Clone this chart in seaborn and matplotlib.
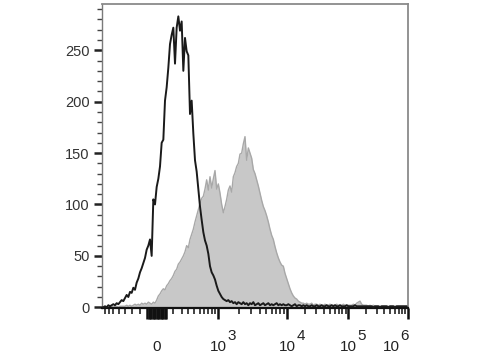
import numpy as np
import pandas as pd
import matplotlib
matplotlib.use("Agg")
import matplotlib.pyplot as plt
import seaborn as sns
from matplotlib.transforms import blended_transform_factory

# ---- data (histogram counts per display channel) ----
channels = list(range(5, 925, 5))

isotype_counts = [
    0, 0, 1, 0, 2, 1, 2, 3, 2, 4,
    3, 5, 7, 6, 9, 12, 10, 15, 14, 19,
    17, 24, 28, 34, 38, 43, 48, 56, 60, 66,
    50, 105, 100, 117, 125, 137, 160, 163, 201, 214,
    233, 256, 265, 272, 237, 272, 283, 269, 278, 230,
    262, 249, 245, 188, 201, 169, 143, 132, 115, 98,
    85, 73, 65, 60, 52, 40, 34, 31, 27, 21,
    16, 13, 10, 8, 7, 6, 7, 5, 6, 4,
    5, 3, 5, 4, 3, 5, 3, 4, 2, 4,
    3, 5, 2, 3, 4, 2, 3, 4, 2, 3,
    4, 2, 3, 2, 3, 4, 2, 3, 2, 3,
    2, 2, 3, 2, 1, 2, 3, 1, 2, 2,
    1, 2, 1, 2, 1, 1, 2, 1, 1, 2,
    1, 1, 2, 1, 1, 2, 1, 1, 2, 1,
    2, 1, 1, 2, 1, 1, 1, 2, 1, 1,
    1, 1, 2, 1, 1, 1, 1, 1, 1, 1,
    1, 1, 1, 0, 1, 1, 1, 0, 1, 1,
    1, 1, 0, 1, 1, 1, 0, 1, 1, 1,
    1, 1, 1, 1,
]

stained_counts = [
    0, 0, 0, 0, 0, 0, 1, 0, 1, 1,
    0, 1, 1, 1, 1, 2, 1, 2, 1, 2,
    3, 2, 3, 2, 4, 3, 4, 3, 5, 4,
    3, 5, 4, 7, 11, 13, 16, 18, 17, 21,
    23, 26, 28, 31, 35, 37, 42, 44, 47, 50,
    54, 60, 58, 66, 71, 76, 83, 89, 95, 101,
    106, 108, 115, 124, 114, 127, 116, 125, 133, 115,
    120, 111, 100, 92, 98, 105, 114, 118, 112, 127,
    131, 137, 140, 149, 150, 159, 166, 143, 155, 150,
    145, 134, 130, 124, 118, 111, 104, 98, 94, 89,
    83, 76, 70, 66, 59, 53, 48, 44, 41, 40,
    33, 28, 23, 18, 14, 11, 9, 8, 6, 5,
    4, 4, 3, 4, 3, 3, 4, 2, 3, 3,
    2, 3, 2, 2, 3, 2, 2, 3, 2, 2,
    2, 3, 2, 2, 2, 3, 2, 2, 2, 2,
    2, 3, 2, 4, 5, 6, 3, 2, 2, 2,
    1, 2, 1, 2, 1, 1, 1, 1, 1, 1,
    1, 1, 1, 1, 1, 1, 1, 1, 1, 1,
    1, 1, 1, 1,
]

y_ticks = [0, 50, 100, 150, 200, 250]
x_tick_bases = ["0", "10", "10", "10", "10"]
x_tick_exponents = ["", "3", "4", "5", "6"]

df = pd.DataFrame({"channel": channels,
                   "isotype": isotype_counts,
                   "stained": stained_counts})

# ---- styling ----
sns.set_theme(style="ticks")
plt.rcParams["font.family"] = ["Liberation Sans", "DejaVu Sans"]

fig = plt.figure(figsize=(4.8, 3.6), dpi=100)
ax = fig.add_axes([102 / 480, 1 - 307.8 / 360, 306 / 480, 303.8 / 360])

# stained sample: grey filled histogram
ax.fill_between(df["channel"], df["stained"], 0, color="#c8c8c8", lw=0, zorder=1)
sns.lineplot(data=df, x="channel", y="stained", ax=ax, color="#a8a8a8",
             lw=1.0, zorder=2)
# isotype control: black outline
sns.lineplot(data=df, x="channel", y="isotype", ax=ax, color="#1a1a1a",
             lw=1.4, zorder=3)

ax.set_xlim(6, 924)
ax.set_ylim(-0.5, 295)
ax.set_xlabel("")
ax.set_ylabel("")

# y axis ticks
ax.set_yticks(y_ticks)
ax.set_yticklabels([str(v) for v in y_ticks], fontsize=10.5, color="#333333")
ax.set_yticks(np.arange(0, 295, 10), minor=True)
ax.tick_params(axis="y", which="major", length=6, width=1.8, color="#222222", pad=3)
ax.tick_params(axis="y", which="minor", length=3.5, width=1.0, color="#444444")

# x axis: biexponential-like display ticks
zero_pos = 170
decade_pos = [354, 561, 745, 924]
minor_x = []
for a, b in zip(decade_pos[:-1], decade_pos[1:]):
    minor_x += [a + (b - a) * np.log10(k) for k in range(2, 10)]
lin_part = [220, 245, 265, 283, 300, 313, 325, 336, 346]
minor_x += lin_part
minor_x += [2 * zero_pos - p for p in lin_part if 2 * zero_pos - p > 6]
cluster = list(np.arange(142, 199, 4))
ax.set_xticks(decade_pos + cluster)
ax.set_xticklabels([])
ax.set_xticks(minor_x, minor=True)
ax.tick_params(axis="x", which="major", length=8, width=1.8, color="#111111")
ax.tick_params(axis="x", which="minor", length=4, width=1.2, color="#222222")

# x tick labels drawn as base + raised exponent
trans = blended_transform_factory(ax.transData, ax.transAxes)
label_centers = [zero_pos, 354, 561, 745, 873]
for xc, base, exp in zip(label_centers, x_tick_bases, x_tick_exponents):
    ax.text(xc, -0.143, base, transform=trans, ha="center", va="baseline",
            fontsize=11, color="#222222")
    if exp:
        ax.text(xc + 28, -0.105, exp, transform=trans, ha="left",
                va="baseline", fontsize=11, color="#222222")

# spines
for side in ["top", "right"]:
    ax.spines[side].set_visible(True)
    ax.spines[side].set_color("#8a8a8a")
    ax.spines[side].set_linewidth(1.3)
ax.spines["left"].set_color("#7a7a7a")
ax.spines["left"].set_linewidth(1.0)
ax.spines["bottom"].set_color("#111111")
ax.spines["bottom"].set_linewidth(1.6)

fig.savefig("out.png", dpi=100, facecolor="white")
